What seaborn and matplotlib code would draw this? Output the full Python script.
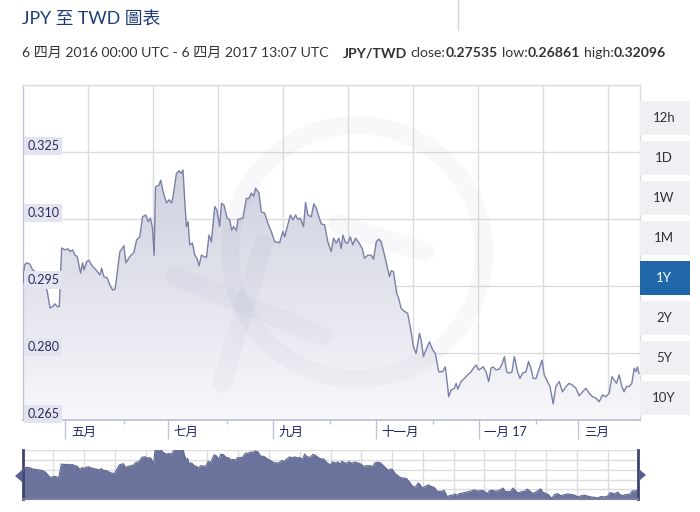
import numpy as np
import pandas as pd
import matplotlib
matplotlib.use("Agg")
import matplotlib.pyplot as plt
import matplotlib.dates as mdates
import matplotlib.patches as mpatches
import matplotlib.transforms as mtransforms
from matplotlib.lines import Line2D
from matplotlib.colors import LinearSegmentedColormap
import seaborn as sns

# (days since 2016-04-06, JPY/TWD rate)
q2_2016 = [(0, 0.2957), (0.9, 0.2997), (2.2, 0.3002), (4.1, 0.2999), (5.7, 0.2986), (7.7, 0.2981),
           (10.1, 0.2975), (11.8, 0.2968), (13.3, 0.2955), (14.4, 0.2937), (16.0, 0.2901), (17.9, 0.2905),
           (18.9, 0.2910), (20.3, 0.2904), (21.5, 0.2904), (22.9, 0.3035), (24.8, 0.3031), (26.8, 0.3033),
           (27.8, 0.3027), (29.4, 0.3031), (30.8, 0.3019), (32.1, 0.3016), (34.1, 0.2979), (35.3, 0.3002),
           (36.1, 0.2986), (37.7, 0.3004), (39.0, 0.3008), (40.6, 0.2997), (43.2, 0.2986), (45.6, 0.2975),
           (46.6, 0.2990), (47.9, 0.2971), (49.9, 0.2968), (51.5, 0.2952), (53.1, 0.2941), (54.6, 0.2943),
           (55.8, 0.2979), (57.4, 0.3027), (59.8, 0.3040), (60.9, 0.3002), (63.3, 0.3016), (65.7, 0.3025),
           (67.3, 0.3053), (69.2, 0.3060), (70.8, 0.3105), (72.8, 0.3109), (74.1, 0.3094), (75.5, 0.3102),
           (76.7, 0.3080), (77.7, 0.3019), (78.5, 0.3172), (80.6, 0.3176), (81.6, 0.3187), (83.0, 0.3161),
           (85.0, 0.3136)]
q3_2016 = [(86.6, 0.3143), (88.0, 0.3136), (88.9, 0.3150), (90.9, 0.3202), (92.5, 0.3208), (93.9, 0.3202),
           (94.8, 0.32096), (95.8, 0.3143), (96.8, 0.3083), (97.8, 0.3094), (98.8, 0.3042), (100.4, 0.3046),
           (101.8, 0.3019), (103.1, 0.3012), (104.3, 0.2995), (105.7, 0.3019), (107.1, 0.3016), (108.7, 0.3014),
           (110.2, 0.3064), (111.6, 0.3049), (113.6, 0.3128), (114.9, 0.3120), (116.5, 0.3083), (117.6, 0.3135),
           (119.1, 0.3131), (120.9, 0.3102), (122.5, 0.3098), (123.6, 0.3075), (124.8, 0.3083), (126.4, 0.3074),
           (127.4, 0.3099), (130.3, 0.3102), (132.3, 0.3146), (133.9, 0.3146), (135.3, 0.3158), (136.7, 0.3151),
           (137.8, 0.3169), (139.8, 0.3158), (141.2, 0.3116), (143.2, 0.3113), (145.1, 0.3090), (147.1, 0.3072),
           (149.1, 0.3049), (152.0, 0.3047), (154.0, 0.3072), (155.0, 0.3060), (156.9, 0.3087), (158.4, 0.3109),
           (159.9, 0.3098), (161.5, 0.3109), (162.9, 0.3099), (164.3, 0.3102), (166.2, 0.3083), (167.4, 0.3137),
           (168.8, 0.3109), (170.8, 0.3105), (172.3, 0.3134), (173.8, 0.3124), (175.3, 0.3105), (176.7, 0.3089)]
q4_2016 = [(178.7, 0.3087), (180.6, 0.3049), (182.6, 0.3027), (184.0, 0.3057), (185.6, 0.3046), (187.1, 0.3057),
           (188.5, 0.3034), (189.5, 0.3064), (191.1, 0.3047), (192.4, 0.3046), (193.9, 0.3060), (195.4, 0.3042),
           (197.0, 0.3057), (199.0, 0.3047), (201.0, 0.3034), (202.3, 0.3012), (204.3, 0.3019), (206.3, 0.3019),
           (207.7, 0.3010), (209.3, 0.3049), (210.8, 0.3055), (212.2, 0.3049), (214.2, 0.3019), (217.1, 0.2971),
           (218.1, 0.2984), (219.5, 0.2982), (221.4, 0.2934), (222.6, 0.2922), (224.0, 0.2900), (226.0, 0.2893),
           (227.9, 0.2889), (229.9, 0.2848), (231.3, 0.2814), (232.9, 0.2799), (234.9, 0.2844), (235.9, 0.2829),
           (237.2, 0.2792), (238.8, 0.2807), (240.8, 0.2825), (242.7, 0.2807), (244.3, 0.2799), (246.3, 0.2758),
           (248.6, 0.2758), (250.2, 0.2769), (251.6, 0.2725), (252.2, 0.2702), (253.6, 0.2717), (255.6, 0.2721),
           (256.6, 0.2732), (257.6, 0.2719), (259.5, 0.2736), (261.5, 0.2743), (263.4, 0.2751), (265.5, 0.2758),
           (266.8, 0.2766), (268.4, 0.2773)]
q1_2017 = [(270.0, 0.2762), (272.7, 0.2769), (274.3, 0.2758), (275.9, 0.2736), (277.3, 0.2766), (278.6, 0.2769),
           (280.2, 0.2762), (282.2, 0.2764), (283.8, 0.2775), (285.2, 0.2792), (286.5, 0.2758), (288.1, 0.2755),
           (289.7, 0.2758), (291.1, 0.2792), (293.0, 0.2758), (294.4, 0.2743), (296.0, 0.2755), (298.0, 0.2758),
           (299.5, 0.2781), (300.9, 0.2766), (302.3, 0.2743), (303.9, 0.2743), (305.9, 0.2766), (307.5, 0.2784),
           (308.8, 0.2751), (310.8, 0.2736), (312.2, 0.2725), (314.1, 0.26861), (315.7, 0.2725), (317.7, 0.2736),
           (319.6, 0.2713), (321.7, 0.2725), (323.6, 0.2732), (325.6, 0.2728), (327.6, 0.2721), (329.5, 0.2704),
           (331.5, 0.2713), (333.5, 0.2721), (335.4, 0.2710), (337.4, 0.2702), (339.4, 0.2699), (341.4, 0.2691),
           (343.3, 0.2706), (345.3, 0.2702), (347.3, 0.2710), (348.9, 0.2747), (350.2, 0.2740), (351.6, 0.2732),
           (353.2, 0.2751), (354.8, 0.2725), (356.1, 0.2713), (357.5, 0.2725), (359.1, 0.2725), (360.7, 0.2732),
           (362.1, 0.2766), (363.1, 0.2758), (364.0, 0.2769), (365.0, 0.27535)]

y_ticks = [0.265, 0.280, 0.295, 0.310, 0.325, 0.340]
month_ticks = ["2016-05-01", "2016-07-01", "2016-09-01", "2016-11-01", "2017-01-01", "2017-03-01"]
month_labels = ["五月", "七月", "九月", "十一月", "一月 17", "三月"]
minor_ticks = ["2016-06-05", "2016-08-05", "2016-10-05", "2016-12-05", "2017-02-04"]
ranges = ["12h", "1D", "1W", "1M", "1Y", "2Y", "5Y", "10Y"]
selected = "1Y"

start = pd.Timestamp("2016-04-06 00:00")
end = pd.Timestamp("2017-04-06 13:07")

df = pd.DataFrame(q2_2016 + q3_2016 + q4_2016 + q1_2017, columns=["day", "rate"])
df["date"] = start + pd.to_timedelta(df["day"], unit="D")

sns.set_style("white")
plt.rcParams["font.family"] = ["Lato", "Noto Sans CJK TC", "DejaVu Sans"]

W, H = 700, 512
fig = plt.figure(figsize=(W / 100, H / 100), dpi=100)

def fx(px):
    return px / W

def fy(py):
    return 1 - py / H

# ---------------- main chart ----------------
ax = fig.add_axes([fx(23), fy(420), 617 / W, 335 / H])

poly = ax.fill_between(df["date"], df["rate"], y_ticks[0], color="none", lw=0)
cmap = LinearSegmentedColormap.from_list("fade", ["#f8f8fb", "#c0c3d5"])
x0, x1 = mdates.date2num(start), mdates.date2num(end)
im = ax.imshow(np.linspace(0, 1, 256).reshape(-1, 1), extent=[x0, x1, y_ticks[0], y_ticks[-1]],
               origin="lower", aspect="auto", cmap=cmap, zorder=1)
im.set_clip_path(poly.get_paths()[0], transform=ax.transData)

sns.lineplot(data=df, x="date", y="rate", ax=ax, color="#7a80a8", lw=1, zorder=4)

ax.set_xlim(start, end)
ax.set_ylim(y_ticks[0], y_ticks[-1])
ax.set_xlabel("")
ax.set_ylabel("")

ax.set_yticks(y_ticks)
ax.yaxis.grid(True, color="#dcdcdc", lw=1)
ax.tick_params(axis="y", length=0, labelleft=False)
step = (end - start) / 9.49
for k in range(1, 10):
    ax.axvline(start + k * step, color="#dcdcdc", lw=1, zorder=0)

for v in y_ticks[:-1]:
    ax.text(0.007, v, f"{v:.3f}", transform=ax.get_yaxis_transform(), ha="left", va="bottom",
            fontsize=9, color="#2b2d5c", zorder=6,
            bbox=dict(boxstyle="square,pad=0.25", fc="#e4e4f0", ec="none"))

ax.set_xticks(pd.to_datetime(month_ticks))
ax.set_xticklabels(month_labels)
ax.set_xticks(pd.to_datetime(minor_ticks), minor=True)
ax.tick_params(axis="x", which="major", length=14, width=1, color="#c0c4da", direction="out",
               pad=-10, labelsize=9, labelcolor="#1d2565", bottom=True)
ax.tick_params(axis="x", which="minor", length=3, width=1, color="#c0c4da", direction="out", bottom=True)
shift = mtransforms.ScaledTranslation(4 / 72, 0, fig.dpi_scale_trans)
for lab in ax.get_xticklabels():
    lab.set_ha("left")
    lab.set_transform(lab.get_transform() + shift)

for side, col in [("top", "#dcdcdc"), ("right", "#dcdcdc"), ("left", "#c3c5d8"), ("bottom", "#b8bcd6")]:
    ax.spines[side].set_visible(True)
    ax.spines[side].set_color(col)
    ax.spines[side].set_linewidth(1.2 if side == "bottom" else 1)

# faint "xe" watermark
wm = dict(color="#4a4f80", alpha=0.035, zorder=2)
ring = mpatches.Ellipse((fx(357), fy(252)), 2 * 127 / W, 2 * 127 / H, transform=fig.transFigure,
                        fill=False, lw=13, ec=wm["color"], alpha=wm["alpha"], zorder=2)
ax.add_artist(ring)
ring.set_clip_path(ax.patch)
for xs, ys in [([175, 322], [276, 336]), ([222, 263], [383, 245]), ([338, 425], [224, 252])]:
    ln = Line2D([fx(x) for x in xs], [fy(y) for y in ys], transform=fig.transFigure, lw=14,
                solid_capstyle="round", **wm)
    ax.add_artist(ln)
    ln.set_clip_path(ax.patch)

# ---------------- navigator ----------------
nav = fig.add_axes([fx(22.7), fy(499.3), (638.3 - 22.7) / W, 49.3 / H])
nav_lo, nav_hi = 0.2678, 0.3178
nav.fill_between(df["date"], df["rate"], nav_lo, color="#6b729b", lw=0, zorder=2)
sns.lineplot(data=df, x="date", y="rate", ax=nav, color="#5d6592", lw=0.8, zorder=3)
nav.set_xlim(start, end)
nav.set_ylim(nav_lo, nav_hi)
nav.set_xticks(pd.date_range(start, end, periods=21))
nav.set_yticks(np.linspace(nav_lo, nav_hi, 6))
nav.grid(True, color="#dddddd", lw=1)
nav.set_axisbelow(True)
nav.tick_params(length=0, labelbottom=False, labelleft=False)
nav.set_xlabel("")
nav.set_ylabel("")
nav.spines["top"].set_visible(False)
nav.spines["bottom"].set_color("#7a7fa0")
nav.spines["bottom"].set_linewidth(1.5)
for side in ["left", "right"]:
    nav.spines[side].set_color("#3e4470")
    nav.spines[side].set_linewidth(2)

for pts in [[(22, 470), (22, 482), (15, 476)], [(639, 469), (639, 481), (646, 475)]]:
    fig.add_artist(mpatches.Polygon([(fx(a), fy(b)) for a, b in pts], closed=True,
                                    transform=fig.transFigure, fc="#5a6190", ec="none"))

# ---------------- range buttons ----------------
for i, lab in enumerate(ranges):
    top = 101 + 40 * i
    on = lab == selected
    fig.add_artist(mpatches.Rectangle((fx(640), fy(top + 34)), 50 / W, 34 / H, transform=fig.transFigure,
                                      fc="#1f67a8" if on else "#efeff4", ec="none"))
    fig.text(fx(664), fy(top + 17), lab, ha="center", va="center", fontsize=9.5,
             color="white" if on else "#333333")

# ---------------- header ----------------
fig.text(fx(22), fy(20), "JPY 至 TWD 圖表", fontsize=12.8, color="#1d3c78", va="center")
fig.add_artist(Line2D([fx(458), fx(458)], [fy(0), fy(30)], transform=fig.transFigure, color="#d5d5d5", lw=1))

renderer = fig.canvas.get_renderer()
pieces = [("6 四月 2016 00:00 UTC - 6 四月 2017 13:07 UTC", "normal", 14),
          ("JPY/TWD", "bold", 4), ("close:", "normal", 0), ("0.27535", "bold", 4),
          ("low:", "normal", 0), ("0.26861", "bold", 4), ("high:", "normal", 0), ("0.32096", "bold", 0)]
x = fx(22)
for s, w, gap in pieces:
    t = fig.text(x, fy(53), s, fontsize=10.1, fontweight=w, color="#333333", va="center")
    bb = t.get_window_extent(renderer=renderer)
    x = (bb.x1 + gap) / fig.bbox.width

fig.savefig("out.png", dpi=100)
